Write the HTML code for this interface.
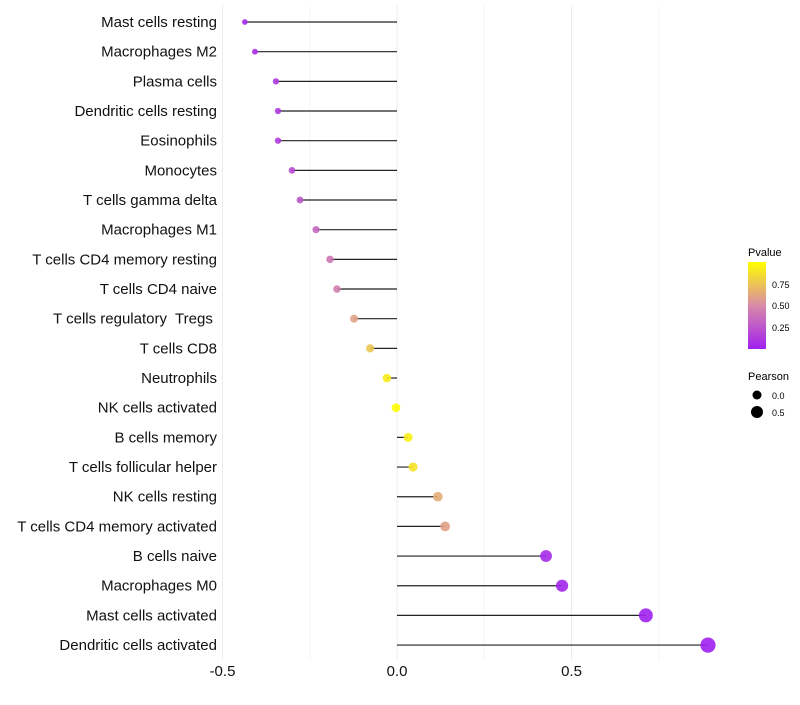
<!DOCTYPE html>
<html><head><meta charset="utf-8"><style>
body{margin:0;background:#fff;font-family:"Liberation Sans",sans-serif}
text{white-space:pre}
</style></head><body>
<svg id="chart" width="800" height="700">
<defs><linearGradient id="pg" x1="0" y1="1" x2="0" y2="0">
<stop offset="0" stop-color="#a020f0"/><stop offset="0.5" stop-color="#d98aa8"/><stop offset="1" stop-color="#ffff00"/></linearGradient></defs>
<g id="grid"></g><g id="marks"></g><g id="ylab"></g><g id="xlab"></g>
<g>
<text x="748" y="256" font-size="11">Pvalue</text>
<rect x="748" y="262" width="18" height="87" fill="url(#pg)"/>
<text x="772" y="288" font-size="9">0.75</text>
<text x="772" y="309" font-size="9">0.50</text>
<text x="772" y="331" font-size="9">0.25</text>
</g>
<g>
<text x="748" y="380" font-size="11">Pearson</text>
<circle cx="757" cy="395" r="4.5" fill="#000"/><text x="772" y="399" font-size="9">0.0</text>
<circle cx="757" cy="412" r="6" fill="#000"/><text x="772" y="416" font-size="9">0.5</text>
</g>
</svg>
<script>
const cells=["Mast cells resting","Macrophages M2","Plasma cells","Dendritic cells resting","Eosinophils","Monocytes","T cells gamma delta","Macrophages M1","T cells CD4 memory resting","T cells CD4 naive","T cells regulatory  Tregs ","T cells CD8","Neutrophils","NK cells activated","B cells memory","T cells follicular helper","NK cells resting","T cells CD4 memory activated","B cells naive","Macrophages M0","Mast cells activated","Dendritic cells activated"];
const pearson=[-0.436,-0.407,-0.347,-0.341,-0.341,-0.301,-0.278,-0.232,-0.192,-0.172,-0.123,-0.077,-0.029,-0.003,0.032,0.046,0.117,0.138,0.427,0.473,0.713,0.891];
const pvalue=[0.05,0.07,0.12,0.13,0.13,0.2,0.25,0.33,0.4,0.45,0.6,0.75,0.92,0.99,0.93,0.88,0.65,0.6,0.05,0.03,0.001,0.0001];
const xticks=[-0.5,0,0.5];
const xtickLabels=["-0.5","0.0","0.5"];
const NS="http://www.w3.org/2000/svg";
const x=v=>397+v*349;
const y=i=>22+i*29.67;
function mk(t,a,p){const e=document.createElementNS(NS,t);for(const k in a)e.setAttribute(k,a[k]);p.appendChild(e);return e;}
function lerp(a,b,t){return a+(b-a)*t}
function col(p){const A=[160,32,240],B=[217,138,168],C=[255,255,0];let s,e,t;if(p<0.5){s=A;e=B;t=p/0.5}else{s=B;e=C;t=(p-0.5)/0.5}
return `rgb(${s.map((v,i)=>Math.round(lerp(v,e[i],t))).join(",")})`;}
const g=document.getElementById('grid');
[-0.5,-0.25,0,0.25,0.5,0.75].forEach(v=>{const l=mk('line',{x1:x(v),x2:x(v),y1:5,y2:660,stroke:v*4%2?'#f5f5f5':'#ececec','stroke-width':1},g);

});
const m=document.getElementById('marks'),yl=document.getElementById('ylab'),xl=document.getElementById('xlab');
cells.forEach((c,i)=>{
const s=mk('line',{x1:x(0),x2:x(pearson[i]),y1:y(i),y2:y(i),stroke:'#222','stroke-width':1.2},m);


const d=mk('circle',{cx:x(pearson[i]),cy:y(i),r:4.4+3.6*pearson[i],fill:col(pvalue[i]),'fill-opacity':0.9},m);


const t=mk('text',{x:217,y:y(i)+5,'font-size':15,'text-anchor':'end',fill:'#111'},yl);t.textContent=c;


});
xticks.forEach((v,i)=>{const t=mk('text',{x:x(v),y:676,'font-size':15,'text-anchor':'middle',fill:'#111'},xl);t.textContent=xtickLabels[i];

});
</script>
</body></html>
